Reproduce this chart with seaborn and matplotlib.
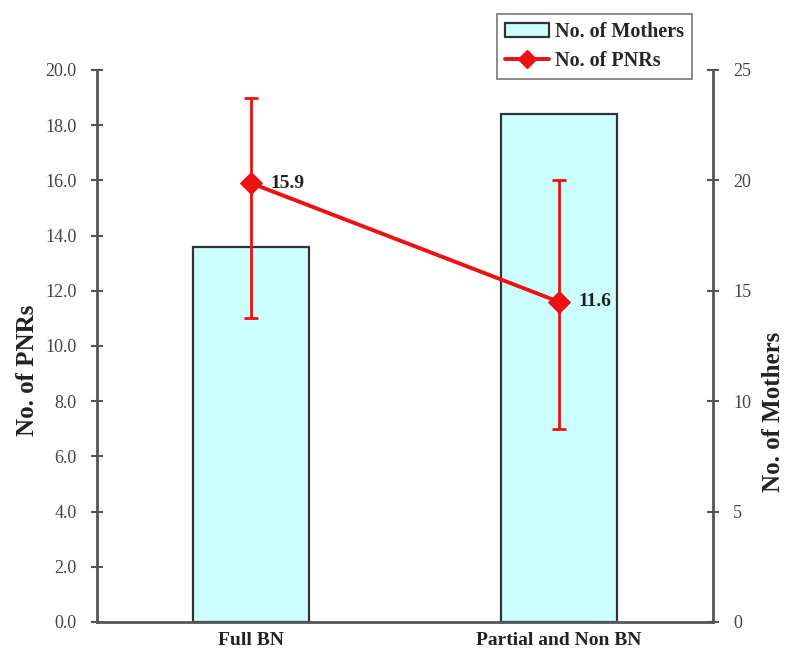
import matplotlib
matplotlib.use("Agg")
import matplotlib.pyplot as plt
import seaborn as sns
import pandas as pd
from matplotlib.lines import Line2D
from matplotlib.patches import Patch

categories = ["Full BN", "Partial and Non BN"]
mothers = [17, 23]
pnrs = [15.9, 11.6]
pnr_low = [11.0, 7.0]
pnr_high = [19.0, 16.0]
left_ticks = [0, 2, 4, 6, 8, 10, 12, 14, 16, 18, 20]
right_ticks = [0, 5, 10, 15, 20, 25]

sns.set_style("white")
plt.rcParams["font.family"] = ["Liberation Serif", "DejaVu Serif"]

df = pd.DataFrame({"cat": categories, "mothers": mothers, "pnr": pnrs})

RED = "#EE1111"
AXC = "#555555"

fig = plt.figure(figsize=(7.87, 6.5), dpi=100)
ax_m = fig.add_axes([97/787, 28/650, 616/787, 552/650])
ax_p = ax_m.twinx()

sns.barplot(data=df, x="cat", y="mothers", ax=ax_m, color="#CCFFFF",
            edgecolor="#333333", linewidth=1.6, width=0.376, saturation=1)
ax_m.set_ylim(0, 25)
ax_m.set_xlim(-0.5, 1.5)
ax_m.yaxis.tick_right()
ax_m.set_yticks(right_ticks)
ax_m.set_yticklabels([str(t) for t in right_ticks])
ax_m.set_ylabel("")
ax_m.set_xlabel("")

xpos = list(range(len(categories)))
sns.lineplot(x=xpos, y=pnrs, ax=ax_p, color=RED, linewidth=2.8,
             marker="D", markersize=11, markeredgecolor=RED)
yerr = [[p - l for p, l in zip(pnrs, pnr_low)], [h - p for p, h in zip(pnrs, pnr_high)]]
ax_p.errorbar(xpos, pnrs, yerr=yerr, fmt="none", ecolor=RED,
              elinewidth=2.0, capsize=5, capthick=2.0)
for x, v in zip(xpos, pnrs):
    ax_p.annotate(f"{v:.1f}", (x, v), xytext=(14, 0), textcoords="offset points",
                  ha="left", va="center", fontsize=14, fontweight="bold", color="#222222")
ax_p.set_ylim(0, 20)
ax_p.yaxis.tick_left()
ax_p.set_yticks(left_ticks)
ax_p.set_yticklabels([f"{t:.1f}" for t in left_ticks])
ax_p.set_ylabel("")
ax_p.set_xlim(-0.5, 1.5)

# axis titles placed like the reference (below the vertical centre)
fig.text(28/787, 1 - 370/650, "No. of PNRs", rotation=90, ha="center", va="center",
         fontsize=18, fontweight="bold", color="#222222")
fig.text(774/787, 1 - 412/650, "No. of Mothers", rotation=90, ha="center", va="center",
         fontsize=18, fontweight="bold", color="#222222")

ax_m.set_xticks(xpos)
ax_m.set_xticklabels(categories, fontsize=14, fontweight="bold", color="#222222")
ax_m.tick_params(axis="x", length=0, pad=7)

for a in (ax_m, ax_p):
    for s in a.spines.values():
        s.set_visible(False)
for a, side in ((ax_m, "bottom"), (ax_p, "left"), (ax_m, "right")):
    a.spines[side].set_visible(True)
    a.spines[side].set_color(AXC)
    a.spines[side].set_linewidth(2)
for a in (ax_m, ax_p):
    a.tick_params(axis="y", direction="inout", length=9, width=1.5, color=AXC,
                  labelsize=13, labelcolor="#444444", pad=10)

handles = [Patch(facecolor="#CCFFFF", edgecolor="#333333", linewidth=1.6),
           Line2D([0], [0], color=RED, linewidth=2.8, marker="D", markersize=9)]
leg = fig.legend(handles, ["No. of Mothers", "No. of PNRs"], loc="upper left",
                 bbox_to_anchor=(497/787, 1 - 14/650), frameon=True, fancybox=False,
                 prop={"weight": "bold", "size": 14.5}, handlelength=2.2,
                 borderpad=0.4, labelspacing=0.45, handletextpad=0.3,
                 borderaxespad=0)
leg.get_frame().set_edgecolor(AXC)
leg.get_frame().set_linewidth(1.2)

fig.savefig("out.png", dpi=100)
